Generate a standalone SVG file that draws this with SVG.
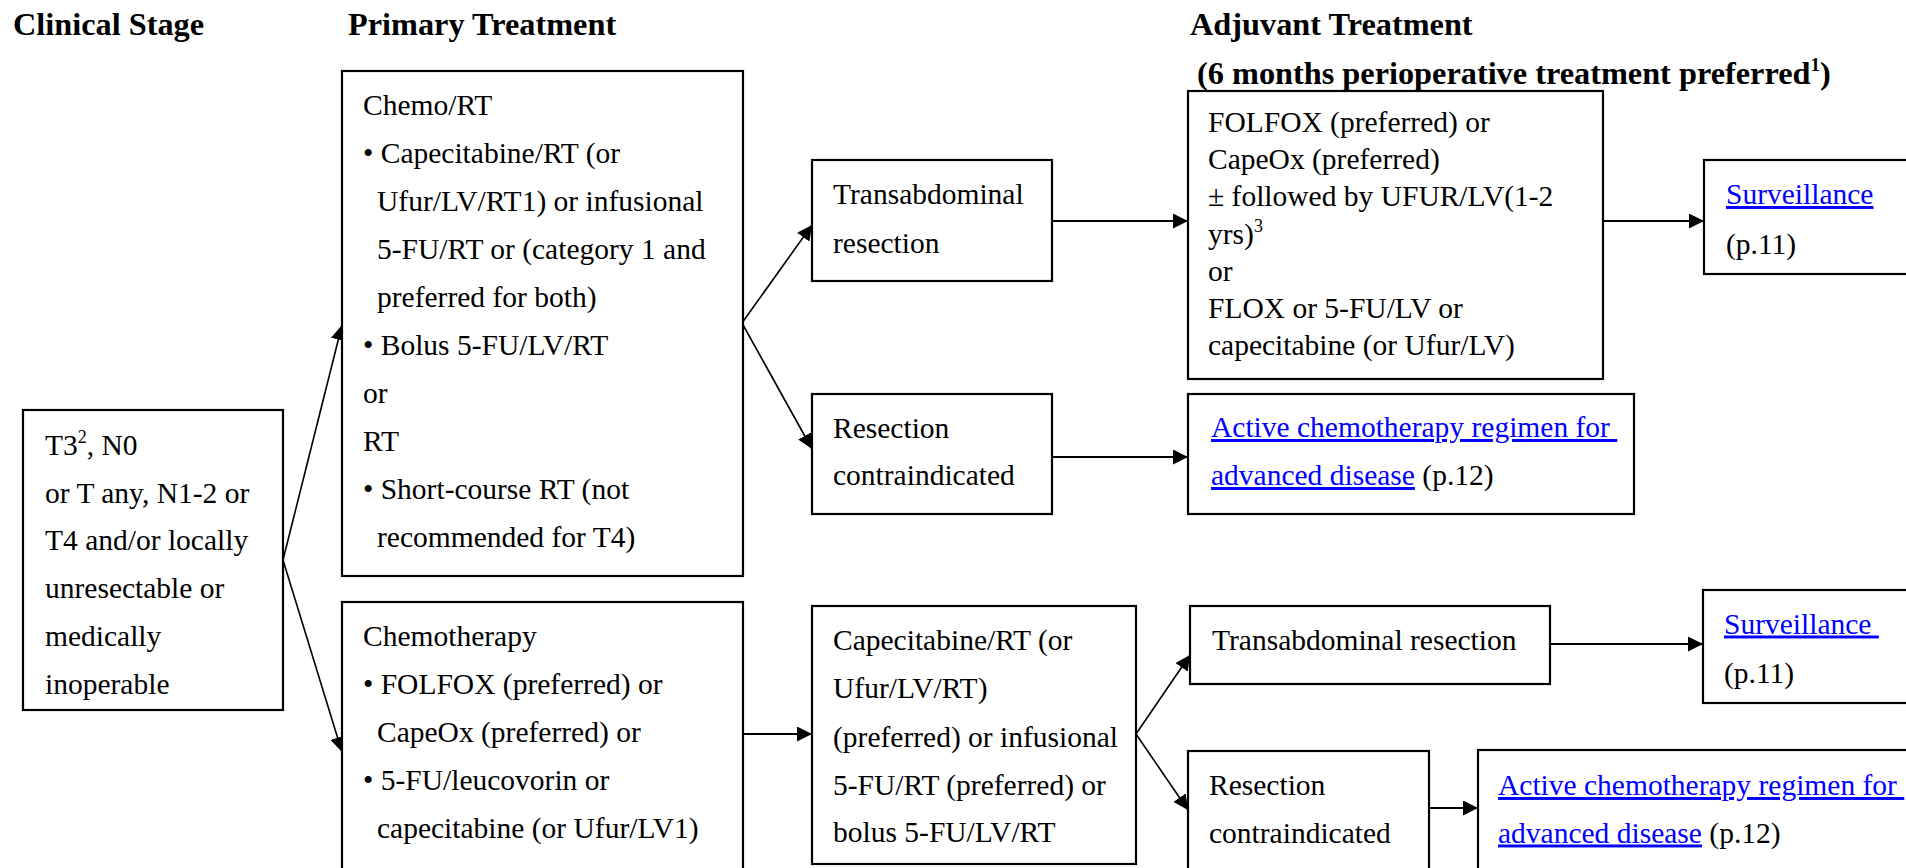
<svg xmlns="http://www.w3.org/2000/svg" width="1906" height="868" viewBox="0 0 1906 868">
<style>
text{font-family:"Liberation Serif","Times New Roman",serif;font-size:29.5px;fill:#000}
.h{font-weight:bold;font-size:32.3px}
.box{fill:#fff;stroke:#000;stroke-width:2.2}
.c{fill:none;stroke:#000;stroke-width:2}
.f{fill:none;stroke:#000;stroke-width:1.6}
.lk{fill:#0000ff;text-decoration:underline}
</style>
<defs>
<marker id="ah" markerUnits="userSpaceOnUse" markerWidth="15" markerHeight="15" refX="14" refY="7" orient="auto" viewBox="0 0 14 14">
<path d="M0,0 L14,7 L0,14 z" fill="#000"/>
</marker>
</defs>
<rect width="1906" height="868" fill="#fff"/>
<g id="headers">
<text class="h" x="13" y="35">Clinical Stage</text>
<text class="h" x="348" y="35">Primary Treatment</text>
<text class="h" x="1190" y="35">Adjuvant Treatment</text>
<text class="h" x="1197" y="84">(6 months perioperative treatment preferred<tspan font-size="19" dy="-13">1</tspan><tspan dy="13">)</tspan></text>
</g>
<g id="connectors">
<path class="f" d="M283,560 L342,325" marker-end="url(#ah)"/>
<path class="f" d="M283,560 L342,752" marker-end="url(#ah)"/>
<path class="f" d="M742,323 L812,225" marker-end="url(#ah)"/>
<path class="f" d="M742,323 L812,449" marker-end="url(#ah)"/>
<path class="c" d="M1052,221 L1188,221" marker-end="url(#ah)"/>
<path class="c" d="M1602,221 L1704,221" marker-end="url(#ah)"/>
<path class="c" d="M1052,457 L1188,457" marker-end="url(#ah)"/>
<path class="c" d="M743,734 L812,734" marker-end="url(#ah)"/>
<path class="f" d="M1136,734 L1190,655" marker-end="url(#ah)"/>
<path class="f" d="M1136,734 L1188,810" marker-end="url(#ah)"/>
<path class="c" d="M1550,644 L1703,644" marker-end="url(#ah)"/>
<path class="c" d="M1427,808 L1478,808" marker-end="url(#ah)"/>
</g>
<g id="clinical">
<rect class="box" x="23" y="410" width="260" height="300"/>
<text x="45" y="455">T3<tspan font-size="18" dy="-12">2</tspan><tspan dy="12">, N0</tspan></text>
<text x="45" y="502.5">or T any, N1-2 or</text>
<text x="45" y="550">T4 and/or locally</text>
<text x="45" y="598">unresectable or</text>
<text x="45" y="646">medically</text>
<text x="45" y="693.5">inoperable</text>
</g>
<g id="chemort">
<rect class="box" x="342" y="71" width="401" height="505"/>
<text x="363" y="115">Chemo/RT</text>
<text x="363" y="163">• Capecitabine/RT (or</text>
<text x="377" y="211">Ufur/LV/RT1) or infusional</text>
<text x="377" y="259">5-FU/RT or (category 1 and</text>
<text x="377" y="307">preferred for both)</text>
<text x="363" y="355">• Bolus 5-FU/LV/RT</text>
<text x="363" y="403">or</text>
<text x="363" y="451">RT</text>
<text x="363" y="499">• Short-course RT (not</text>
<text x="377" y="547">recommended for T4)</text>
</g>
<g id="chemotherapy">
<rect class="box" x="342" y="602" width="401" height="300"/>
<text x="363" y="646">Chemotherapy</text>
<text x="363" y="693.5">• FOLFOX (preferred) or</text>
<text x="377" y="741.5">CapeOx (preferred) or</text>
<text x="363" y="790">• 5-FU/leucovorin or</text>
<text x="377" y="837.5">capecitabine (or Ufur/LV1)</text>
</g>
<g id="trans1">
<rect class="box" x="812" y="160" width="240" height="121"/>
<text x="833" y="204">Transabdominal</text>
<text x="833" y="253">resection</text>
</g>
<g id="adjuvant">
<rect class="box" x="1188" y="91" width="415" height="288"/>
<text x="1208" y="132">FOLFOX (preferred) or</text>
<text x="1208" y="169">CapeOx (preferred)</text>
<text x="1208" y="206">± followed by UFUR/LV(1-2</text>
<text x="1208" y="243.5">yrs)<tspan font-size="18" dy="-12">3</tspan></text>
<text x="1208" y="280.5">or</text>
<text x="1208" y="318">FLOX or 5-FU/LV or</text>
<text x="1208" y="355">capecitabine (or Ufur/LV)</text>
</g>
<g id="surv1">
<rect class="box" x="1704" y="160" width="220" height="114"/>
<text class="lk" x="1726" y="204">Surveillance</text>
<text x="1726" y="254">(p.11)</text>
</g>
<g id="resc1">
<rect class="box" x="812" y="394" width="240" height="120"/>
<text x="833" y="438">Resection</text>
<text x="833" y="485">contraindicated</text>
</g>
<g id="active1">
<rect class="box" x="1188" y="394" width="446" height="120"/>
<text x="1211" y="437" xml:space="preserve"><tspan class="lk">Active chemotherapy regimen for </tspan></text>
<text x="1211" y="485" xml:space="preserve"><tspan class="lk">advanced disease</tspan> (p.12)</text>
</g>
<g id="cape">
<rect class="box" x="812" y="606" width="324" height="258"/>
<text x="833" y="650">Capecitabine/RT (or</text>
<text x="833" y="698">Ufur/LV/RT)</text>
<text x="833" y="746.5">(preferred) or infusional</text>
<text x="833" y="795">5-FU/RT (preferred) or</text>
<text x="833" y="842">bolus 5-FU/LV/RT</text>
</g>
<g id="trans2">
<rect class="box" x="1190" y="606" width="360" height="78"/>
<text x="1212" y="649.5">Transabdominal resection</text>
</g>
<g id="surv2">
<rect class="box" x="1703" y="590" width="220" height="113"/>
<text x="1724" y="633.5" xml:space="preserve"><tspan class="lk">Surveillance </tspan></text>
<text x="1724" y="683">(p.11)</text>
</g>
<g id="resc2">
<rect class="box" x="1188" y="751" width="241" height="130"/>
<text x="1209" y="795">Resection</text>
<text x="1209" y="843">contraindicated</text>
</g>
<g id="active2">
<rect class="box" x="1478" y="750" width="440" height="130"/>
<text x="1498" y="795" xml:space="preserve"><tspan class="lk">Active chemotherapy regimen for </tspan></text>
<text x="1498" y="842.5" xml:space="preserve"><tspan class="lk">advanced disease</tspan> (p.12)</text>
</g>
</svg>
